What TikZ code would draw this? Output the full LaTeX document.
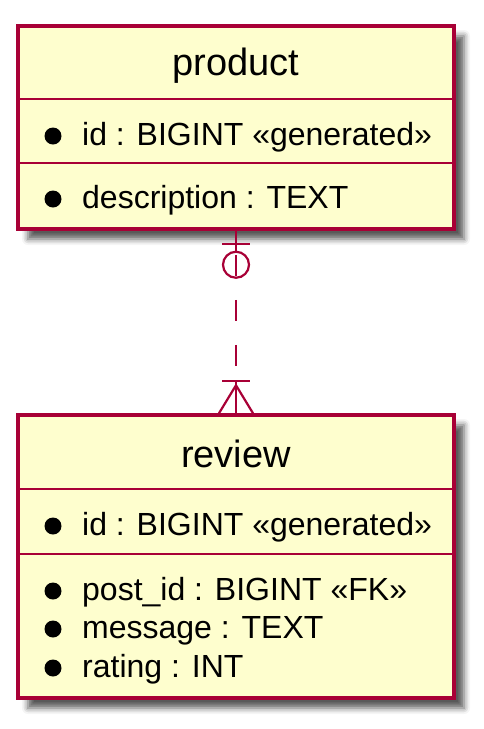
\documentclass[tikz,border=0pt]{standalone}
\usepackage{fontspec}
\setmainfont{Liberation Sans}
\usetikzlibrary{positioning, calc, shadows.blur}
\definecolor{umlred}{HTML}{A80036}
\definecolor{umlfill}{HTML}{FEFECE}

\begin{document}
\begin{tikzpicture}[x=1pt, y=-1pt,
  entity/.style={draw=umlred, line width=3.5pt, fill=umlfill, inner sep=0pt, minimum width=436pt,
    blur shadow={shadow xshift=10pt, shadow yshift=-10pt, shadow blur radius=6pt, shadow opacity=65}},
  sepline/.style={draw=umlred, line width=2.5pt},
  title/.style={anchor=base, inner sep=0pt, font=\fontsize{38}{44}\selectfont},
  attr/.style={anchor=base west, inner sep=0pt, font=\fontsize{32}{39}\selectfont},
  relline/.style={draw=umlred, line width=2.2pt}]
  \useasboundingbox (0,0) rectangle (484,729);

  % Entities
  \node[entity, minimum height=203pt] (product) at (236,127.5) {};
  \node[entity, minimum height=283pt] (review) at (236,556.5) {};

  % product compartments
  \draw[sepline] (product.west |- 0,99) -- (product.east |- 0,99);
  \draw[sepline] (product.west |- 0,163) -- (product.east |- 0,163);
  \node[title] (producttitle) at (236,75) {product};
  \fill (53,136) circle (8.5pt);
  \node[attr] (productid) at (82,145) {id : BIGINT «generated»};
  \fill (53,199) circle (8.5pt);
  \node[attr] (productdesc) at (82,208) {description : TEXT};

  % review compartments
  \draw[sepline] (review.west |- 0,489) -- (review.east |- 0,489);
  \draw[sepline] (review.west |- 0,554) -- (review.east |- 0,554);
  \node[title] (reviewtitle) at (236,467) {review};
  \fill (53,526) circle (8.5pt);
  \node[attr] (reviewid) at (82,535) {id : BIGINT «generated»};
  \fill (53,591) circle (8.5pt);
  \node[attr] (reviewpost) at (82,600) {post\_id : BIGINT «FK»};
  \fill (53,629) circle (8.5pt);
  \node[attr] (reviewmsg) at (82,638) {message : TEXT};
  \fill (53,668) circle (8.5pt);
  \node[attr] (reviewrating) at (82,677) {rating : INT};

  % Relation product |o..|{ review
  \draw[relline, dash pattern=on 21pt off 24pt, dash phase=21pt] (product.south) -- (review.north);
  \draw[relline] (product.south) -- ($(product.south)+(0,21)$);
  \draw[relline] ($(product.south)+(-14,13)$) -- ($(product.south)+(14,13)$);
  \draw[relline] ($(product.south)+(0,34)$) circle (13pt);
  \draw[relline] ($(review.north)+(0,-32)$) -- (review.north);
  \draw[relline] ($(review.north)+(-14,-32)$) -- ($(review.north)+(14,-32)$);
  \draw[relline] ($(review.north)+(-17,0)$) -- ($(review.north)+(0,-28)$) -- ($(review.north)+(17,0)$);
\end{tikzpicture}
\end{document}
